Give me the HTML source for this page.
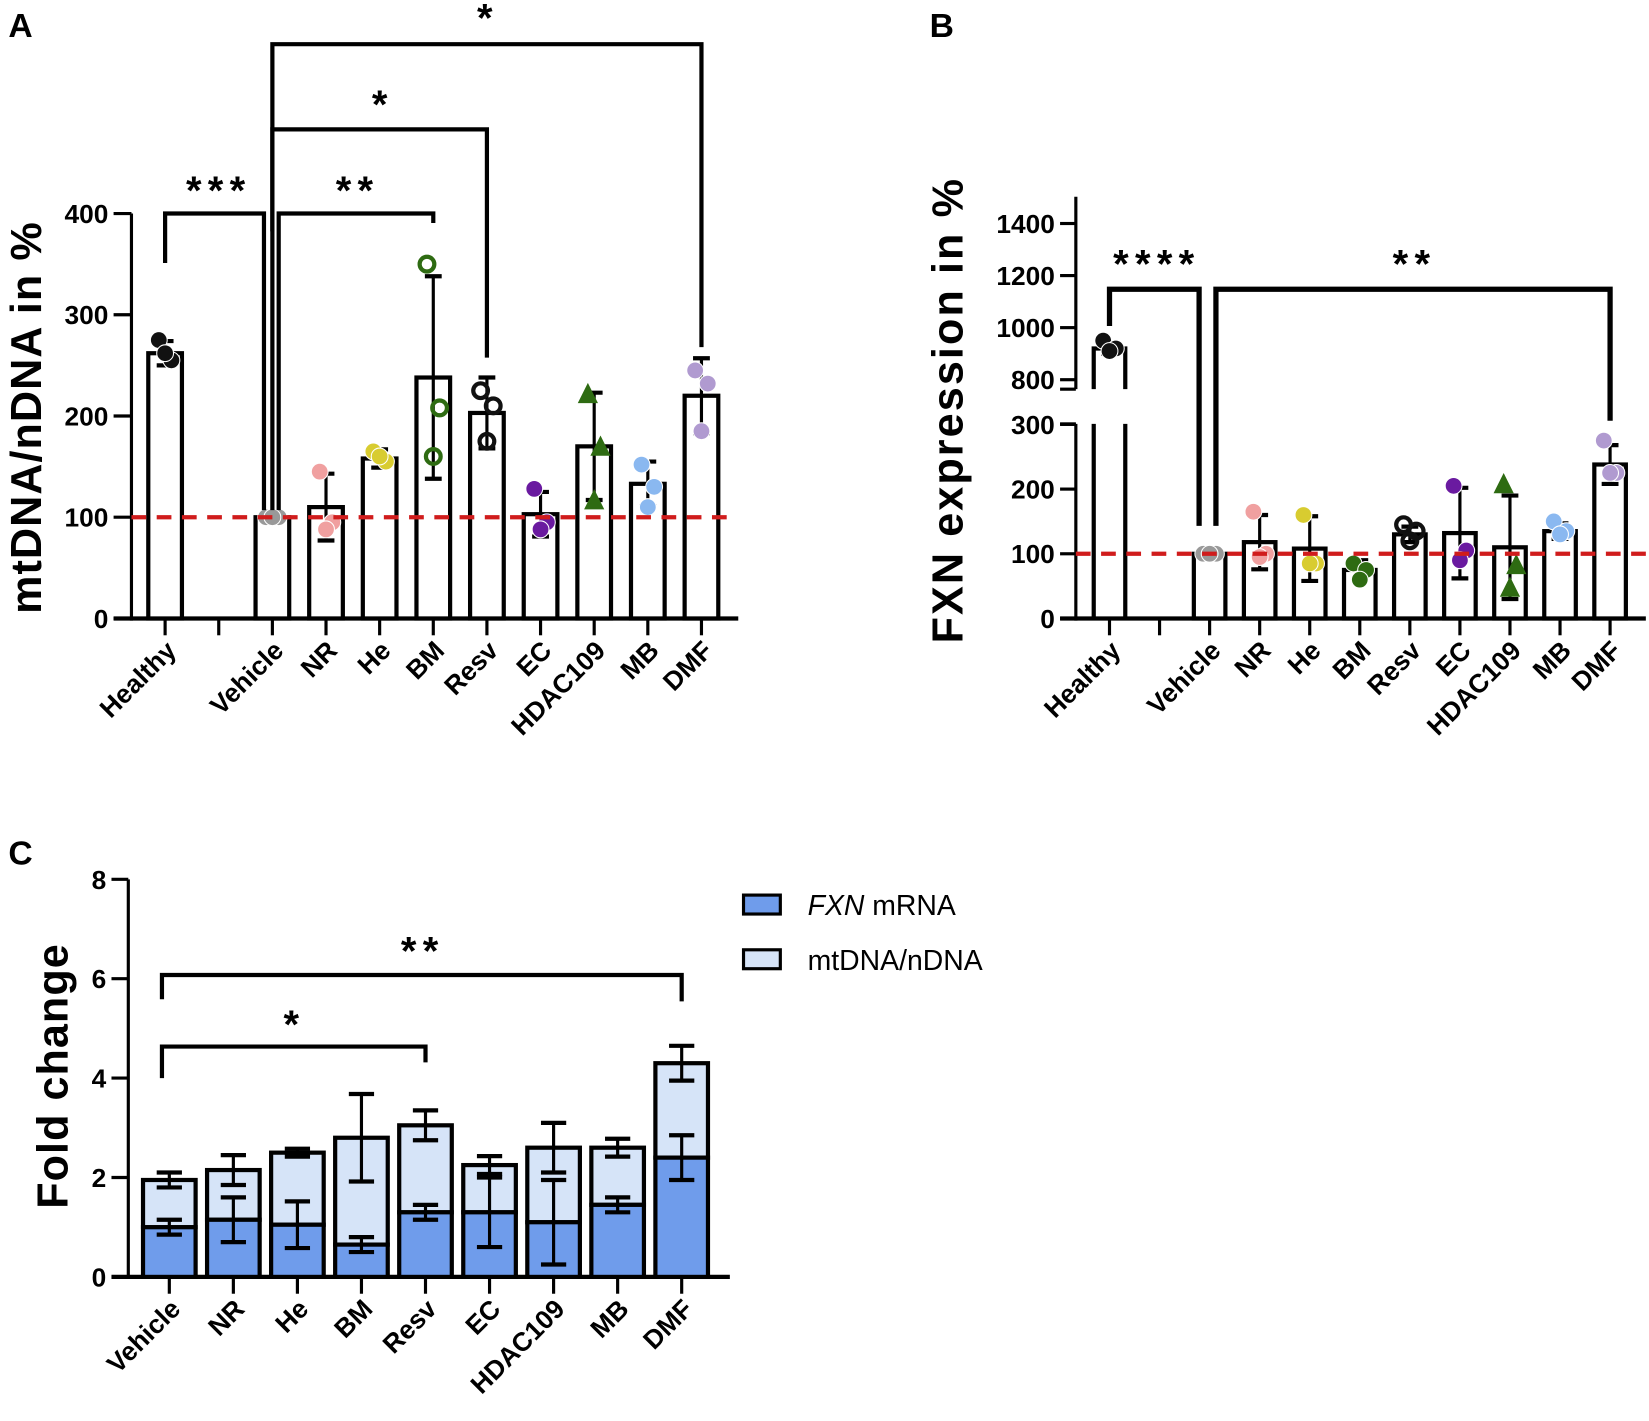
<!DOCTYPE html>
<html><head><meta charset="utf-8">
<style>
html,body{margin:0;padding:0;background:#fff;}
svg{display:block;font-family:"Liberation Sans",Arial,sans-serif;}
</style></head>
<body>
<svg id="fig" width="1649" height="1421" viewBox="0 0 1568 1351" preserveAspectRatio="none" xmlns="http://www.w3.org/2000/svg">
<rect width="1568" height="1351" fill="#fff"/>
<text x="8" y="35" font-size="32" font-weight="bold">A</text>
<text x="884" y="35" font-size="32" font-weight="bold">B</text>
<text x="8" y="822" font-size="32" font-weight="bold">C</text>
<text transform="translate(39,397) rotate(-90)" text-anchor="middle" font-size="41" font-weight="bold" letter-spacing="1">mtDNA/nDNA in %</text>
<text transform="translate(915,390) rotate(-90)" text-anchor="middle" font-size="41" font-weight="bold" letter-spacing="2">FXN expression in %</text>
<text transform="translate(64,1023) rotate(-90)" text-anchor="middle" font-size="41" font-weight="bold" letter-spacing="1">Fold change</text>
<g id="gA"></g>
<g id="gB"></g>
<g id="gC"></g>
<g>
<g><rect x="707" y="851" width="35" height="18" fill="#6f9ceb" stroke="#000" stroke-width="3"/><text x="768" y="870" font-size="27"><tspan font-style="italic">FXN</tspan> mRNA</text></g>
<g><rect x="707" y="903" width="35" height="18" fill="#d6e4f8" stroke="#000" stroke-width="3"/><text x="768" y="922" font-size="27">mtDNA/nDNA</text></g>
</g>
</svg>
<script>
// Panel A data
const catsA = ["Healthy","","Vehicle","NR","He","BM","Resv","EC","HDAC109","MB","DMF"];
const meanA = [262,null,100,110,158,238,203,103,170,133,220];
const errA  = [12,null,4,33,9,100,35,22,53,22,37];
const ptsA  = [[275,255,262],null,[100,100,100],[145,95,88],[165,155,160],[350,208,160],[225,210,175],[128,95,88],[220,168,115],[152,130,110],[245,232,185]];
const colA  = ["#111",null,"#999","#f0a0a0","#d8cc30","#2e6b12","#111","#6a1aa0","#2e6b12","#8ab8f0","#b09ad0"];
const ticksA = [0,100,200,300,400];
// Panel B data
const catsB = ["Healthy","","Vehicle","NR","He","BM","Resv","EC","HDAC109","MB","DMF"];
const meanB = [920,null,100,118,108,75,130,132,110,135,238];
const errB  = [20,null,4,42,50,15,12,70,80,12,30];
const ptsB  = [[950,920,910],null,[100,100,100],[165,100,95],[160,85,85],[85,75,60],[145,135,120],[205,105,90],[205,80,45],[150,135,130],[275,225,225]];
const colB  = ["#111",null,"#999","#f0a0a0","#d8cc30","#2e6b12","#111","#6a1aa0","#2e6b12","#8ab8f0","#b09ad0"];
const ticksBlow = [0,100,200,300];
const ticksBhigh = [800,1000,1200,1400];
// Panel C data
const catsC = ["Vehicle","NR","He","BM","Resv","EC","HDAC109","MB","DMF"];
const fxnC  = [1.0,1.15,1.05,0.65,1.3,1.3,1.1,1.45,2.4];
const fxnErrC = [0.15,0.45,0.47,0.15,0.15,0.7,0.85,0.15,0.45];
const totC  = [1.95,2.15,2.5,2.8,3.05,2.25,2.6,2.6,4.3];
const totErrC = [0.15,0.3,0.08,0.88,0.3,0.18,0.5,0.18,0.35];
const ticksC = [0,2,4,6,8];

const NS="http://www.w3.org/2000/svg";
function mk(parent,tag,attrs,text){const e=document.createElementNS(NS,tag);for(const k in attrs)e.setAttribute(k,attrs[k]);if(text!==undefined)e.textContent=text;parent.appendChild(e);return e;}
function line(p,x1,y1,x2,y2,w){return mk(p,"line",{x1:x1,y1:y1,x2:x2,y2:y2,stroke:"#000","stroke-width":w||3});}

function errBar(p,x,yLo,yHi,cap){line(p,x,yLo,x,yHi,3);line(p,x-cap,yHi,x+cap,yHi,4);line(p,x-cap,yLo,x+cap,yLo,4);}
function marker(p,x,y,col,open,tri){
  let m;
  if(tri){m=mk(p,"polygon",{points:(x)+","+(y-10)+" "+(x-8)+","+(y+6)+" "+(x+8)+","+(y+6),fill:col,stroke:col,"stroke-width":2});}
  else if(open){m=mk(p,"circle",{cx:x,cy:y,r:7,fill:"none",stroke:col,"stroke-width":4});}
  else{m=mk(p,"circle",{cx:x,cy:y,r:8,fill:col,stroke:"#fff","stroke-width":1});}
  
  
}
function bracket(p,x1,y1,x2,y2,yTop,label,lx,ly,w){
  const g=mk(p,"g",{});
  
  
  mk(g,"polyline",{points:x1+","+y1+" "+x1+","+yTop+" "+x2+","+yTop+" "+x2+","+y2,fill:"none",stroke:"#000","stroke-width":w||4});
  mk(g,"text",{x:lx,y:ly,"text-anchor":"middle","font-size":38,"font-weight":"bold","letter-spacing":6},label);
}
function catLabel(p,x,y,t){const e=mk(p,"text",{transform:"translate("+x+","+y+") rotate(-45)","text-anchor":"end","font-size":25,"font-weight":"bold"},t);}
function tickLabel(p,x,y,t){const e=mk(p,"text",{x:x,y:y,"text-anchor":"end","font-size":25,"font-weight":"bold"},t);}

// ---------- Panel A ----------
(function(){
const g=document.getElementById("gA");
const y=v=>588-v*0.9625, x=i=>157+51*i, bw=32;
line(g,125,203,125,590,3); line(g,108,588,702,588,4);
ticksA.forEach(t=>{line(g,108,y(t),125,y(t),3);tickLabel(g,103,y(t)+9,t);});
catsA.forEach((c,i)=>{line(g,x(i),588,x(i),604,3); if(c)catLabel(g,x(i)+12,620,c);});
meanA.forEach((m,i)=>{ if(m===null)return;
  const b=mk(g,"rect",{x:x(i)-bw/2,y:y(m),width:bw,height:588-y(m),fill:"#fff",stroke:"#000","stroke-width":4});
  
  
  errBar(g,x(i),y(m-errA[i]),y(m+errA[i]),8);
});
ptsA.forEach((ps,i)=>{ if(!ps)return; const off=[-6,6,0];
  ps.forEach((v,k)=>marker(g,x(i)+(ps.length>1?off[k]:0),y(v),colA[i],(i===5||i===6),i===8));});
const dl=mk(g,"line",{x1:125,y1:y(100),x2:700,y2:y(100),stroke:"#d01c1c","stroke-width":4,"stroke-dasharray":"14,10"});

bracket(g,x(0),250,x(2)-8,485,y(400),"***",208,194);
bracket(g,x(2)+6,485,x(5),212,y(400),"**",340,194);
bracket(g,x(2),485,x(6),340,123,"*",364,112);
bracket(g,x(2),220,x(10),330,42,"*",464,30);
})();

// ---------- Panel B ----------
(function(){
const g=document.getElementById("gB");
const y=v=>v<=300?588-v*0.615:361-(v-800)*0.2475, x=i=>1055+47.6*i, bw=30;
line(g,1023,403,1023,590,3); line(g,1023,187,1023,370,3);
line(g,1008,588,1565,588,4);
line(g,1008,403,1023,403,3); line(g,1008,370,1023,370,3);
ticksBlow.concat(ticksBhigh).forEach(t=>{line(g,1008,y(t),1023,y(t),3);tickLabel(g,1003,y(t)+9,t);});
catsB.forEach((c,i)=>{line(g,x(i),588,x(i),604,3); if(c)catLabel(g,x(i)+12,620,c);});
meanB.forEach((m,i)=>{ if(m===null)return;
  const top=y(m);
  if(m>300){
    const b=mk(g,"path",{d:"M"+(x(i)-bw/2)+",588 V403 M"+(x(i)+bw/2)+",588 V403 M"+(x(i)-bw/2)+",370 V"+top+" H"+(x(i)+bw/2)+" V370",fill:"none",stroke:"#000","stroke-width":4});
    
    
  } else {
    const b=mk(g,"rect",{x:x(i)-bw/2,y:top,width:bw,height:588-top,fill:"#fff",stroke:"#000","stroke-width":4});
    
    
  }
  errBar(g,x(i),y(m-errB[i]),y(m+errB[i]),8);
});
ptsB.forEach((ps,i)=>{ if(!ps)return; const off=[-6,6,0];
  ps.forEach((v,k)=>marker(g,x(i)+off[k],y(v),colB[i],i===6,i===8));});
const dl=mk(g,"line",{x1:1023,y1:y(100),x2:1568,y2:y(100),stroke:"#d01c1c","stroke-width":4,"stroke-dasharray":"14,10"});

bracket(g,x(0),310,x(2)-10,500,275,"****",1100,264,5);
bracket(g,x(2)+6,500,x(10),400,275,"**",1345,264,5);
})();

// ---------- Panel C ----------
(function(){
const g=document.getElementById("gC");
const y=v=>1214-v*47.25, x=i=>161+60.9*i, bw=50;
line(g,122,836,122,1216,3); line(g,106,1214,694,1214,4);
ticksC.forEach(t=>{line(g,106,y(t),122,y(t),3);tickLabel(g,101,y(t)+9,t);});
catsC.forEach((c,i)=>{line(g,x(i),1214,x(i),1230,3); catLabel(g,x(i)+12,1246,c);});
catsC.forEach((c,i)=>{
  const top=mk(g,"rect",{x:x(i)-bw/2,y:y(totC[i]),width:bw,height:y(fxnC[i])-y(totC[i]),fill:"#d6e4f8",stroke:"#000","stroke-width":4});
  
  
  const bot=mk(g,"rect",{x:x(i)-bw/2,y:y(fxnC[i]),width:bw,height:1214-y(fxnC[i]),fill:"#6f9ceb",stroke:"#000","stroke-width":4});
  
  
  errBar(g,x(i),y(totC[i]-totErrC[i]),y(totC[i]+totErrC[i]),12);
  errBar(g,x(i),y(fxnC[i]-fxnErrC[i]),y(fxnC[i]+fxnErrC[i]),12);
});
bracket(g,x(0)-7,1025,x(4),1010,995,"*",280,987);
bracket(g,x(0)-7,950,x(8),952,927,"**",402,917);
})();
</script>
</body></html>
